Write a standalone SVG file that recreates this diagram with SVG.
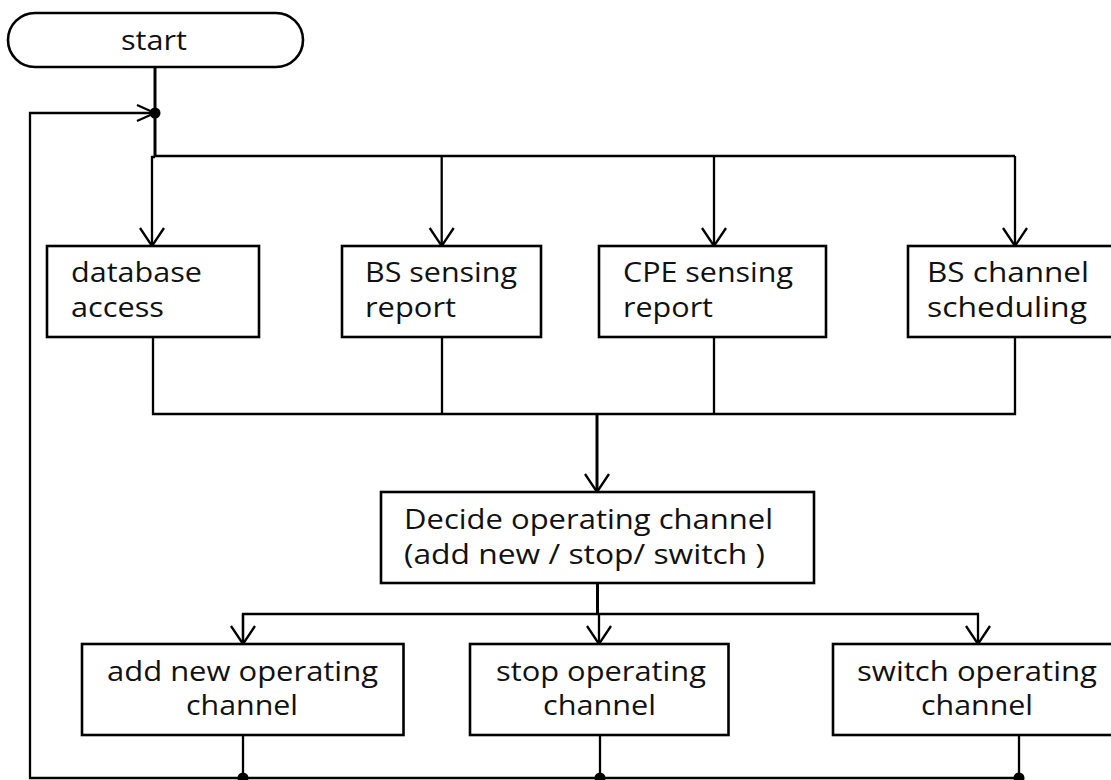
<svg xmlns="http://www.w3.org/2000/svg" width="1111" height="780" viewBox="0 0 1111 780">
  <style>
    .box { fill: #ffffff; stroke: #000000; stroke-width: 2.6; }
    .lbl { font-family: "Open Sans", "Noto Sans", "DejaVu Sans", sans-serif; font-size: 27.5px; fill: #111111; }
    .wire { fill: none; stroke: #000000; stroke-width: 2.3; }
    .thick { stroke-width: 3; }
    .dot { fill: #000000; }
  </style>
  <defs>
    <marker id="vee" markerUnits="userSpaceOnUse" markerWidth="22" markerHeight="28" viewBox="0 0 22 28" refX="20" refY="14" orient="auto">
      <path d="M2,2 L20,14 L2,26" fill="none" stroke="#000" stroke-width="2.3"/>
    </marker>
    <marker id="veeSmall" markerUnits="userSpaceOnUse" markerWidth="22" markerHeight="22" viewBox="0 0 22 22" refX="20" refY="11" orient="auto">
      <path d="M2,3 L20,11 L2,19" fill="none" stroke="#000" stroke-width="2.3"/>
    </marker>
  </defs>
  <rect width="1111" height="780" fill="#ffffff"/>

  <g id="connectors">
    <!-- start down to the fan-out bar -->
    <path class="wire thick" d="M155,67 V156"/>
    <path class="wire" d="M155,156 H1015"/>
    <path class="wire" d="M155,157 H152 V246" marker-end="url(#vee)"/>
    <path class="wire" d="M441.7,156 V246" marker-end="url(#vee)"/>
    <path class="wire" d="M714,156 V246" marker-end="url(#vee)"/>
    <path class="wire" d="M1015,156 V246" marker-end="url(#vee)"/>
    <!-- merge of the four inputs -->
    <path class="wire" d="M153,337 V414 H1015 V337"/>
    <path class="wire" d="M442,337 V414"/>
    <path class="wire" d="M714,337 V414"/>
    <path class="wire thick" d="M597,414 V492" marker-end="url(#vee)"/>
    <!-- decision fan-out -->
    <path class="wire thick" d="M597.5,583 V614"/>
    <path class="wire" d="M243,644 V614 H978 V644" marker-end="url(#vee)"/>
    <path class="wire" d="M243,614 V644" marker-end="url(#vee)"/>
    <path class="wire" d="M599,614 V644" marker-end="url(#vee)"/>
    <!-- loop back to the top -->
    <path class="wire" d="M243,735 V778"/>
    <path class="wire" d="M600,735 V778"/>
    <path class="wire" d="M1019,735 V778"/>
    <path class="wire" d="M1019,778 H30 V113 H155" marker-end="url(#veeSmall)"/>
    <circle class="dot" cx="155" cy="113" r="5.5"/>
    <circle class="dot" cx="243" cy="778" r="5.5"/>
    <circle class="dot" cx="600" cy="778" r="5.5"/>
    <circle class="dot" cx="1019" cy="778" r="5.5"/>
  </g>

  <g id="start">
    <rect class="box" x="8" y="13" width="295" height="54" rx="27" ry="27"/>
    <text class="lbl" x="121" y="50" textLength="66" lengthAdjust="spacingAndGlyphs">start</text>
  </g>

  <g id="database-access">
    <rect class="box" x="47" y="246" width="212" height="91"/>
    <text class="lbl" x="71" y="282" textLength="131" lengthAdjust="spacingAndGlyphs">database</text>
    <text class="lbl" x="71" y="317" textLength="93" lengthAdjust="spacingAndGlyphs">access</text>
  </g>

  <g id="bs-sensing-report">
    <rect class="box" x="342" y="246" width="199" height="91"/>
    <text class="lbl" x="365" y="282" textLength="152" lengthAdjust="spacingAndGlyphs">BS sensing</text>
    <text class="lbl" x="365" y="317" textLength="91" lengthAdjust="spacingAndGlyphs">report</text>
  </g>

  <g id="cpe-sensing-report">
    <rect class="box" x="599" y="246" width="227" height="91"/>
    <text class="lbl" x="623" y="282" textLength="170" lengthAdjust="spacingAndGlyphs">CPE sensing</text>
    <text class="lbl" x="623" y="317" textLength="90" lengthAdjust="spacingAndGlyphs">report</text>
  </g>

  <g id="bs-channel-scheduling">
    <rect class="box" x="908" y="246" width="205" height="91"/>
    <text class="lbl" x="927" y="282" textLength="162" lengthAdjust="spacingAndGlyphs">BS channel</text>
    <text class="lbl" x="927" y="317" textLength="160" lengthAdjust="spacingAndGlyphs">scheduling</text>
  </g>

  <g id="decide">
    <rect class="box" x="381" y="492" width="433" height="91"/>
    <text class="lbl" x="404" y="529" textLength="369" lengthAdjust="spacingAndGlyphs">Decide operating channel</text>
    <text class="lbl" x="404" y="564" textLength="361" lengthAdjust="spacingAndGlyphs">(add new / stop/ switch )</text>
  </g>

  <g id="add-new">
    <rect class="box" x="82" y="644" width="321.5" height="91"/>
    <text class="lbl" x="107" y="681" textLength="271" lengthAdjust="spacingAndGlyphs">add new operating</text>
    <text class="lbl" x="186" y="715" textLength="112" lengthAdjust="spacingAndGlyphs">channel</text>
  </g>

  <g id="stop">
    <rect class="box" x="470" y="644" width="258.5" height="91"/>
    <text class="lbl" x="496" y="681" textLength="210" lengthAdjust="spacingAndGlyphs">stop operating</text>
    <text class="lbl" x="543" y="715" textLength="113" lengthAdjust="spacingAndGlyphs">channel</text>
  </g>

  <g id="switch">
    <rect class="box" x="833" y="644" width="280" height="91"/>
    <text class="lbl" x="857" y="681" textLength="240" lengthAdjust="spacingAndGlyphs">switch operating</text>
    <text class="lbl" x="921" y="715" textLength="112" lengthAdjust="spacingAndGlyphs">channel</text>
  </g>
</svg>
